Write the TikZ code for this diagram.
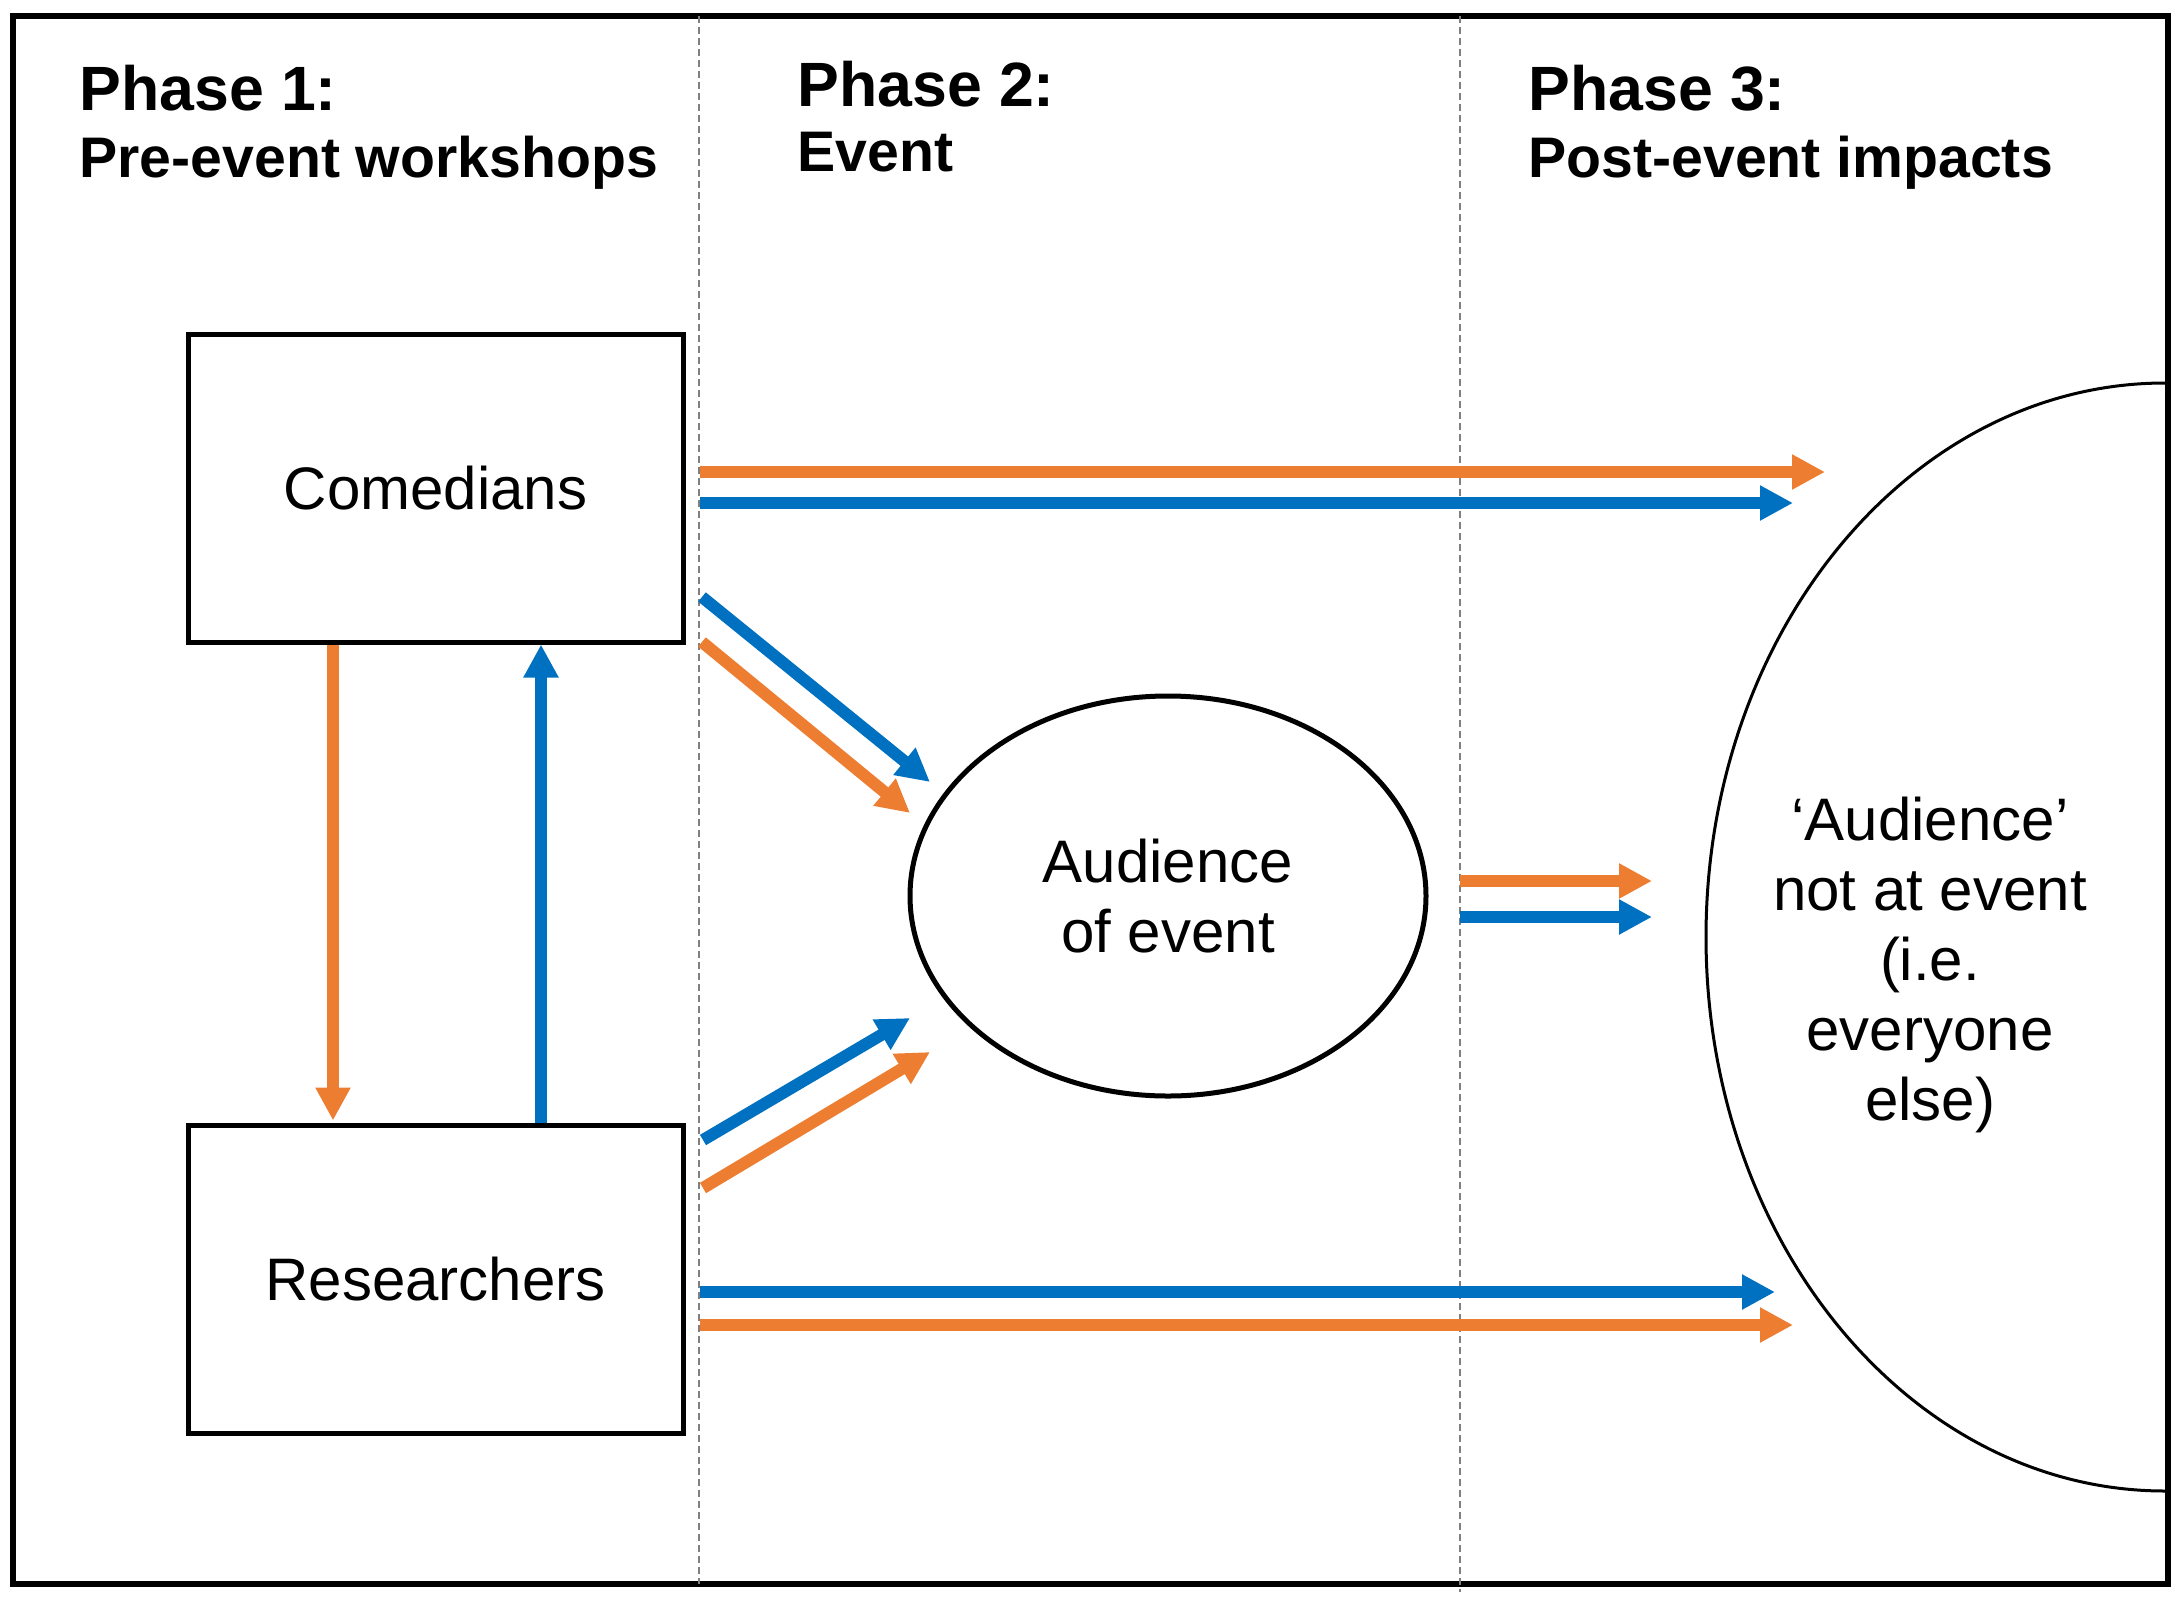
\documentclass[tikz,border=0pt]{standalone}
\usepackage{fontspec}
\setmainfont{Liberation Sans}
\usetikzlibrary{arrows.meta,shapes.geometric}
\definecolor{arrOrange}{HTML}{ED7D31}
\definecolor{arrBlue}{HTML}{0070C0}
\definecolor{divGray}{HTML}{808080}
\begin{document}
\begin{tikzpicture}[x=0.5pt,y=-0.5pt,
  flow/.style={line width=6pt,-{Triangle[length=16.5pt,width=16.5pt]}},
  oflow/.style={flow,draw=arrOrange},
  bflow/.style={flow,draw=arrBlue},
  actor/.style={draw,line width=2.5pt,rectangle,minimum width=247.5pt,minimum height=154pt,inner sep=0pt,font=\fontsize{30}{35}\selectfont},
  audience/.style={draw,ellipse,line width=2.5pt,minimum width=258pt,minimum height=200pt,inner sep=0pt,align=center,font=\fontsize{30}{35}\selectfont},
  bodytext/.style={align=center,inner sep=0pt,font=\fontsize{30}{35}\selectfont},
  phasehead/.style={anchor=base west,inner sep=0pt,font=\bfseries\fontsize{31.3}{38}\selectfont},
  phasesub/.style={anchor=base west,inner sep=0pt,font=\bfseries\fontsize{28.6}{34}\selectfont},
  divider/.style={draw=divGray,line width=1pt,dash pattern=on 3.5pt off 2pt},
]
\useasboundingbox (0,0) rectangle (2183,1600);

% outer frame and phase dividers
\draw[line width=3pt] (13,16) rectangle (2168,1584);
\draw[divider] (699,16) -- (699,1584);
\draw[divider] (1460,16) -- (1460,1592);

% phase titles
\node[phasehead] (p1) at (79,111) {Phase 1:};
\node[phasesub] (p1s) at (79,177) {Pre-event workshops};
\node[phasehead] (p2) at (797,106) {Phase 2:};
\node[phasesub] (p2s) at (797,171) {Event};
\node[phasehead] (p3) at (1528,111) {Phase 3:};
\node[phasesub] (p3s) at (1528,177) {Post-event impacts};

% actors
\node[actor] (com) at (435.5,488) {Comedians};
\node[actor] (res) at (435.5,1279) {Researchers};
\node[audience] (aud) at (1168,896) {Audience\\of event};

% wider audience (half ellipse cut by the frame)
\draw[line width=1.5pt] (2165,383) arc[start angle=90,end angle=270,x radius=229.5pt,y radius=277pt];
\node[bodytext] (outside) at (1930,965) {‘Audience’\\not at event\\(i.e.\\everyone\\else)};

% coordinates for free ends
\coordinate (oX) at (333,0);
\coordinate (bX) at (541,0);
\coordinate (t1s) at (700,472);  \coordinate (t1e) at (1825,472);
\coordinate (t2s) at (700,503);  \coordinate (t2e) at (1793,503);
\coordinate (d1s) at (702,597);  \coordinate (d1e) at (930,782);
\coordinate (d2s) at (702,642);  \coordinate (d2e) at (910,813);
\coordinate (u1s) at (703,1140); \coordinate (u1e) at (910,1018);
\coordinate (u2s) at (703,1188); \coordinate (u2e) at (930,1052);
\coordinate (b1s) at (700,1292); \coordinate (b1e) at (1775,1292);
\coordinate (b2s) at (700,1325); \coordinate (b2e) at (1793,1325);
\coordinate (m1s) at (1460,881); \coordinate (m1e) at (1652,881);
\coordinate (m2s) at (1460,917); \coordinate (m2e) at (1652,917);

% arrows between comedians and researchers
\draw[oflow,shorten >=1pt] (com.south -| oX) -- (res.north -| oX);
\draw[bflow] (res.north -| bX) -- (com.south -| bX);

% arrows to the wider audience
\draw[oflow] (t1s) -- (t1e);
\draw[bflow] (t2s) -- (t2e);
\draw[bflow] (b1s) -- (b1e);
\draw[oflow] (b2s) -- (b2e);

% arrows to the event audience
\draw[bflow] (d1s) -- (d1e);
\draw[oflow] (d2s) -- (d2e);
\draw[bflow] (u1s) -- (u1e);
\draw[oflow] (u2s) -- (u2e);

% arrows from event audience outward
\draw[oflow] (m1s) -- (m1e);
\draw[bflow] (m2s) -- (m2e);
\end{tikzpicture}
\end{document}
